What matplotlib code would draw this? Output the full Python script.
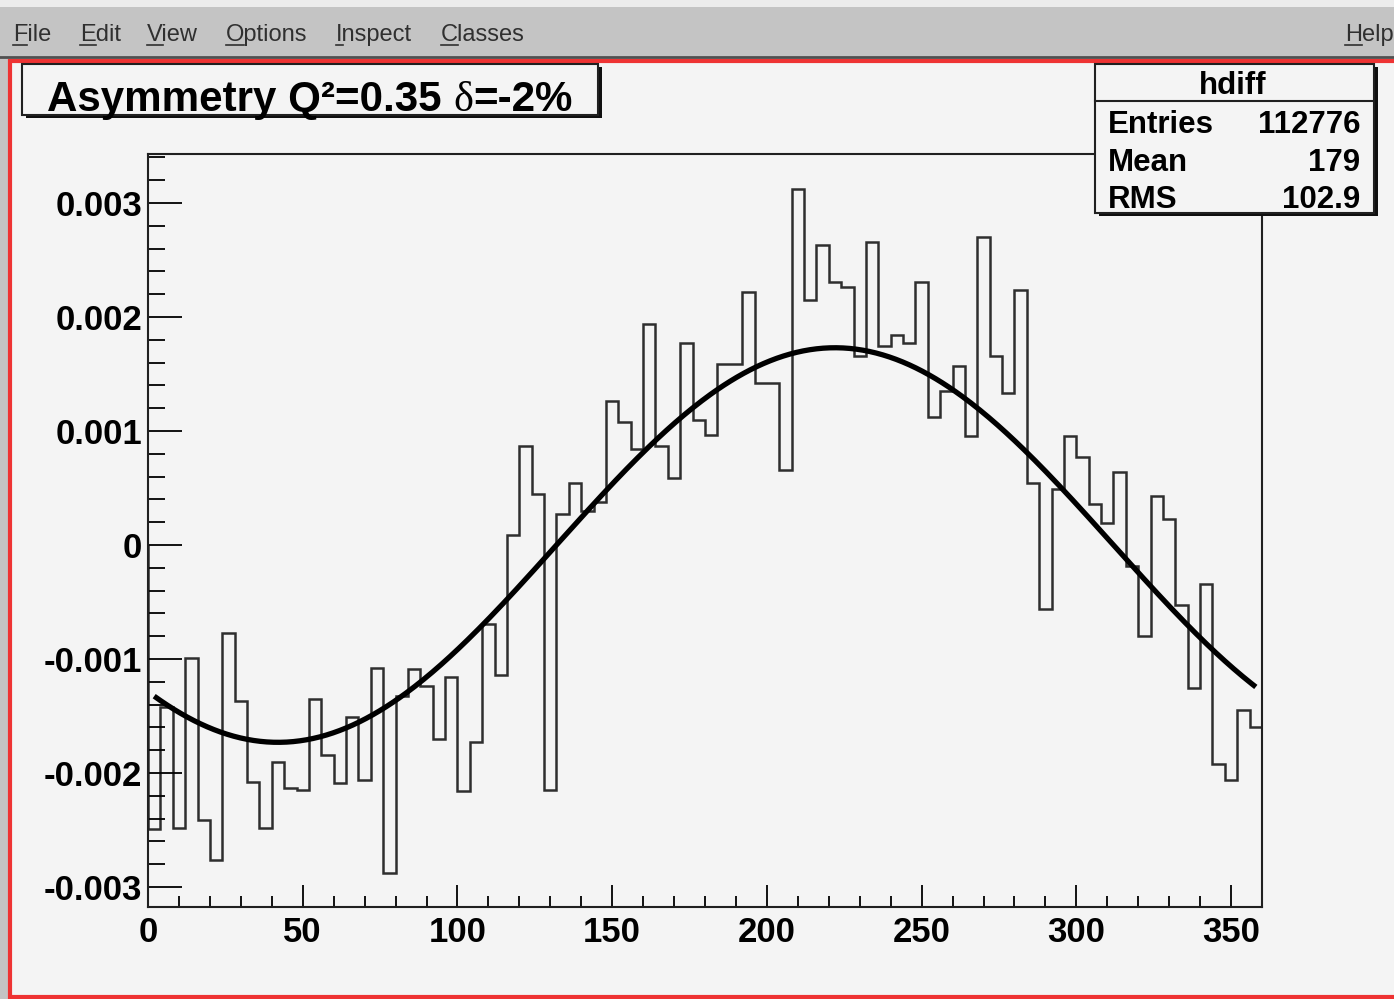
import numpy as np
import matplotlib.pyplot as plt
from matplotlib.patches import Rectangle
from matplotlib.lines import Line2D
from matplotlib.ticker import MultipleLocator, FixedLocator

# hdiff: asymmetry vs. phi, 90 bins of 4 degrees
phi_lo, phi_hi, nbins = 0.0, 360.0, 90
hdiff = np.array([
    -2.49, -1.42, -2.48, -0.99, -2.41, -2.76, -0.775, -1.37, -2.08, -2.48,
    -1.90, -2.13, -2.15, -1.35, -1.84, -2.09, -1.51, -2.06, -1.08, -2.88,
    -1.32, -1.09, -1.24, -1.70, -1.16, -2.16, -1.73, -0.69, -1.14, 0.085,
    0.87, 0.45, -2.15, 0.27, 0.54, 0.30, 0.38, 1.26, 1.08, 0.84,
    1.94, 0.87, 0.59, 1.77, 1.10, 0.965, 1.59, 1.59, 2.22, 1.42,
    1.42, 0.66, 3.12, 2.15, 2.63, 2.31, 2.26, 1.66, 2.66, 1.75,
    1.84, 1.77, 2.31, 1.12, 1.35, 1.57, 0.96, 2.70, 1.66, 1.33,
    2.24, 0.54, -0.56, 0.49, 0.96, 0.77, 0.36, 0.19, 0.64, -0.18,
    -0.80, 0.43, 0.225, -0.53, -1.25, -0.34, -1.92, -2.06, -1.45, -1.60,
]) * 1e-3

# fit p0 + p1*cos(phi) + p2*sin(phi)
p0, p1, p2 = 0.0, -1.286e-3, -1.158e-3
fit_lo, fit_hi = 2.0, 358.0

ytick_vals = [-0.003, -0.002, -0.001, 0.0, 0.001, 0.002, 0.003]
ytick_labels = ["-0.003", "-0.002", "-0.001", "0", "0.001", "0.002", "0.003"]
xtick_vals = [0, 50, 100, 150, 200, 250, 300, 350]

title_parts = ["Asymmetry Q\u00b2=0.35 ", "\u03b4", "=-2%"]
stats_name = "hdiff"
stats_rows = [("Entries", "112776"), ("Mean", "179"), ("RMS", "102.9")]
menu_items = ["File", "Edit", "View", "Options", "Inspect", "Classes"]

W, H = 1394, 999
SANS = "Liberation Sans"


def fx(p):
    return p / W


def fy(p):
    return 1 - p / H


fig = plt.figure(figsize=(W / 100, H / 100), dpi=100, facecolor="#c4c4c4")
renderer = fig.canvas.get_renderer()

# window chrome: menu bar and selected canvas border
fig.patches.append(Rectangle((0, fy(7)), 1, 7 / H, transform=fig.transFigure,
                             facecolor="#ececec", edgecolor="none", zorder=-2))
fig.lines.append(Line2D([0, 1], [fy(57), fy(57)], transform=fig.transFigure,
                        color="#505050", lw=2, zorder=-1))
fig.patches.append(Rectangle((fx(10), fy(997)), fx(1500), (997 - 61) / H,
                             transform=fig.transFigure, facecolor="#f4f4f4",
                             edgecolor="#ee3333", lw=3, zorder=-2))

menu_x = [13, 80, 147, 226, 336, 441]
for name, x in zip(menu_items + ["Help"], menu_x + [1345]):
    fig.text(fx(x), fy(41), name, fontfamily=SANS, fontsize=17, color="#303030",
             va="baseline", ha="left")
    first = fig.text(0, 0, name[0], fontfamily=SANS, fontsize=17)
    w = first.get_window_extent(renderer).width
    first.remove()
    fig.lines.append(Line2D([fx(x), fx(x + w)], [fy(45), fy(45)],
                            transform=fig.transFigure, color="#303030", lw=1.2))

# frame
ax = fig.add_axes([fx(148), fy(907), fx(1262 - 148), (907 - 154) / H])
ax.set_zorder(1)
ax.set_facecolor("#f4f4f4")
edges = np.linspace(phi_lo, phi_hi, nbins + 1)
ax.stairs(hdiff, edges, color="#2e2e2e", lw=1.8)

phi = np.linspace(fit_lo, fit_hi, 500)
fit = p0 + p1 * np.cos(np.radians(phi)) + p2 * np.sin(np.radians(phi))
ax.plot(phi, fit, color="black", lw=3.8, solid_capstyle="butt")

ax.set_xlim(phi_lo, phi_hi)
ax.set_ylim(-0.003175, 0.00343)

ax.xaxis.set_major_locator(FixedLocator(xtick_vals))
ax.xaxis.set_minor_locator(MultipleLocator(10))
ax.yaxis.set_major_locator(FixedLocator(ytick_vals))
ax.yaxis.set_minor_locator(MultipleLocator(0.0002))
ax.set_xticklabels([str(v) for v in xtick_vals])
ax.set_yticklabels(ytick_labels)

ax.tick_params(axis="y", which="major", direction="in", length=24.5, width=1.3,
               pad=4.3, labelsize=25)
ax.tick_params(axis="y", which="minor", direction="in", length=12.2, width=1.3)
ax.tick_params(axis="x", which="major", direction="in", length=16, width=1.3,
               pad=6.5, labelsize=25)
ax.tick_params(axis="x", which="minor", direction="in", length=8, width=1.3)
for lab in ax.get_xticklabels() + ax.get_yticklabels():
    lab.set_fontfamily(SANS)
    lab.set_fontweight("bold")
for sp in ax.spines.values():
    sp.set_linewidth(1.5)
    sp.set_color("#202020")


def ribbon_box(x0, y0, x1, y1):
    # ROOT style pave with a dark drop shadow
    fig.patches.append(Rectangle((fx(x0 + 4), fy(y1 + 3)), (x1 - x0) / W, (y1 - y0) / H,
                                 transform=fig.transFigure, facecolor="#101010",
                                 edgecolor="none", zorder=3))
    fig.patches.append(Rectangle((fx(x0), fy(y1)), (x1 - x0) / W, (y1 - y0) / H,
                                 transform=fig.transFigure, facecolor="#f4f4f4",
                                 edgecolor="#202020", lw=1.5, zorder=4))


# title pave
ribbon_box(22, 64, 598, 115)
x = 47
for part, fam, wt in zip(title_parts, [SANS, "Liberation Serif", SANS],
                         ["bold", "normal", "bold"]):
    t = fig.text(fx(x), fy(111), part, fontfamily=fam, fontweight=wt, fontsize=30.3,
                 va="baseline", ha="left", zorder=5)
    x += t.get_window_extent(renderer).width

# stats pave
ribbon_box(1095, 64, 1374, 213)
fig.lines.append(Line2D([fx(1095), fx(1374)], [fy(101), fy(101)],
                        transform=fig.transFigure, color="#202020", lw=1.5, zorder=5))
fig.text(fx(1233), fy(94), stats_name, fontfamily=SANS, fontweight="bold",
         fontsize=22.5, ha="center", va="baseline", zorder=5)
for (key, val), yb in zip(stats_rows, [133, 171, 208]):
    fig.text(fx(1108), fy(yb), key, fontfamily=SANS, fontweight="bold",
             fontsize=22.5, ha="left", va="baseline", zorder=5)
    fig.text(fx(1360), fy(yb), val, fontfamily=SANS, fontweight="bold",
             fontsize=22.5, ha="right", va="baseline", zorder=5)

fig.savefig("out.png", dpi=100, facecolor=fig.get_facecolor())
